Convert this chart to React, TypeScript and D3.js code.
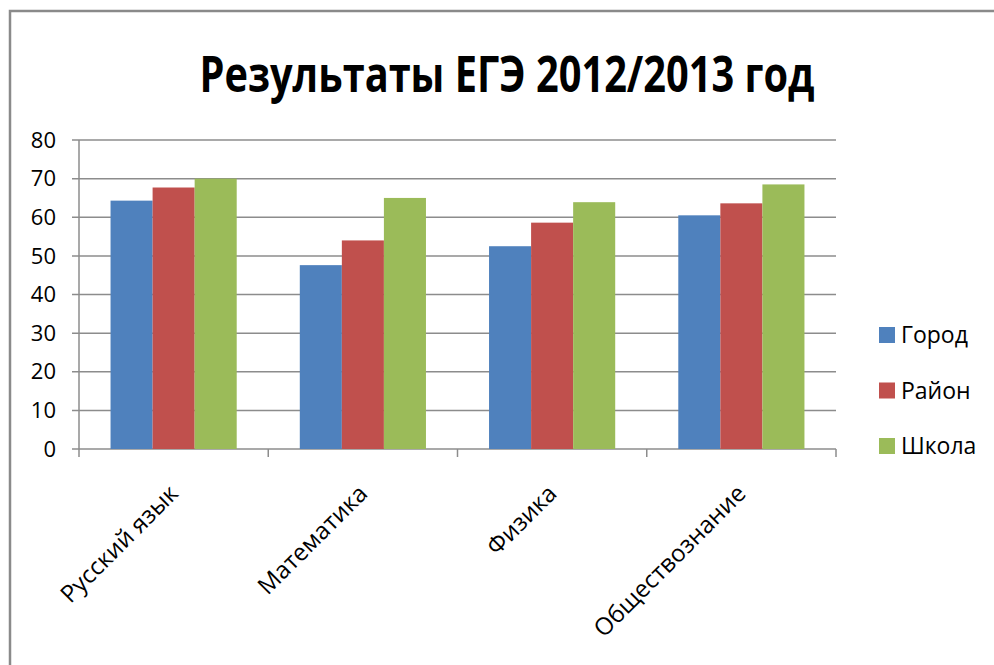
import React from 'react';
import * as d3 from 'd3';

const categories = ['Русский язык', 'Математика', 'Физика', 'Обществознание'];
const seriesNames = ['Город', 'Район', 'Школа'];
const gorod = [64.3, 47.6, 52.5, 60.5];
const raion = [67.7, 54.0, 58.6, 63.6];
const shkola = [70.0, 65.0, 63.9, 68.5];
const yTicks = [0, 10, 20, 30, 40, 50, 60, 70, 80];
const colors = ['#4F81BD', '#C0504D', '#9BBB59'];
const titleText = 'Результаты ЕГЭ 2012/2013 год';

export default function App() {
  const W = 994, H = 665;
  const series = [gorod, raion, shkola];
  const x = d3.scaleBand<string>().domain(categories).range([79, 836]).paddingInner(0).paddingOuter(0);
  const xi = d3.scaleBand<string>().domain(seriesNames).range([0, x.bandwidth()]).paddingInner(0).paddingOuter(0.75);
  const y = d3.scaleLinear().domain([0, 80]).range([449, 140]);
  const font = "'Open Sans', 'DejaVu Sans', sans-serif";
  const grid = '#8c8c8c';
  const boundaries = categories.map(c => x(c)!).concat([x.range()[1]]);
  return (
    <svg width={W} height={H} style={{ position: 'absolute', left: 0, top: 0, background: '#fff' }}>
      <rect x={0} y={0} width={W} height={H} fill="#fff" />
      <rect x={10} y={11} width={1100} height={800} fill="none" stroke="#8a8a8a" strokeWidth={2.5} />
      <text x={507} y={92} textAnchor="middle" fontFamily={font} fontWeight={700} fontSize={51}
        textLength={615} lengthAdjust="spacingAndGlyphs" fill="#000">{titleText}</text>
      {yTicks.map(t => (
        <g key={t}>
          <line x1={72} x2={836} y1={y(t)} y2={y(t)} stroke={grid} strokeWidth={1.5} />
          <text x={56} y={y(t)} dy="0.35em" textAnchor="end" fontFamily={font} fontSize={22} fill="#000">{t}</text>
        </g>
      ))}
      <line x1={79} x2={79} y1={y(80)} y2={457} stroke={grid} strokeWidth={1.5} />
      {boundaries.slice(1).map((b, i) => (
        <line key={i} x1={b} x2={b} y1={y(0)} y2={457} stroke={grid} strokeWidth={1.5} />
      ))}
      {series.map((vals, si) => (
        <g key={si} fill={colors[si]}>
          {categories.map((c, ci) => (
            <rect key={c} x={x(c)! + xi(seriesNames[si])!} width={xi.bandwidth()} y={y(vals[ci])}
              height={y(0) - y(vals[ci])} />
          ))}
        </g>
      ))}
      {categories.map(c => {
        const ax = x(c)! + x.bandwidth() / 2 + 6;
        const ay = 495;
        return (
          <text key={c} x={ax} y={ay} transform={`rotate(-45 ${ax} ${ay})`} textAnchor="end"
            fontFamily={font} fontSize={24} fill="#000">{c}</text>
        );
      })}
      {seriesNames.map((s, i) => {
        const cy = 335 + i * 55.5;
        return (
          <g key={s}>
            <rect x={879} y={cy - 8} width={16} height={16} fill={colors[i]} />
            <text x={901} y={cy} dy="0.35em" fontFamily={font} fontSize={23} fill="#000">{s}</text>
          </g>
        );
      })}
    </svg>
  );
}
